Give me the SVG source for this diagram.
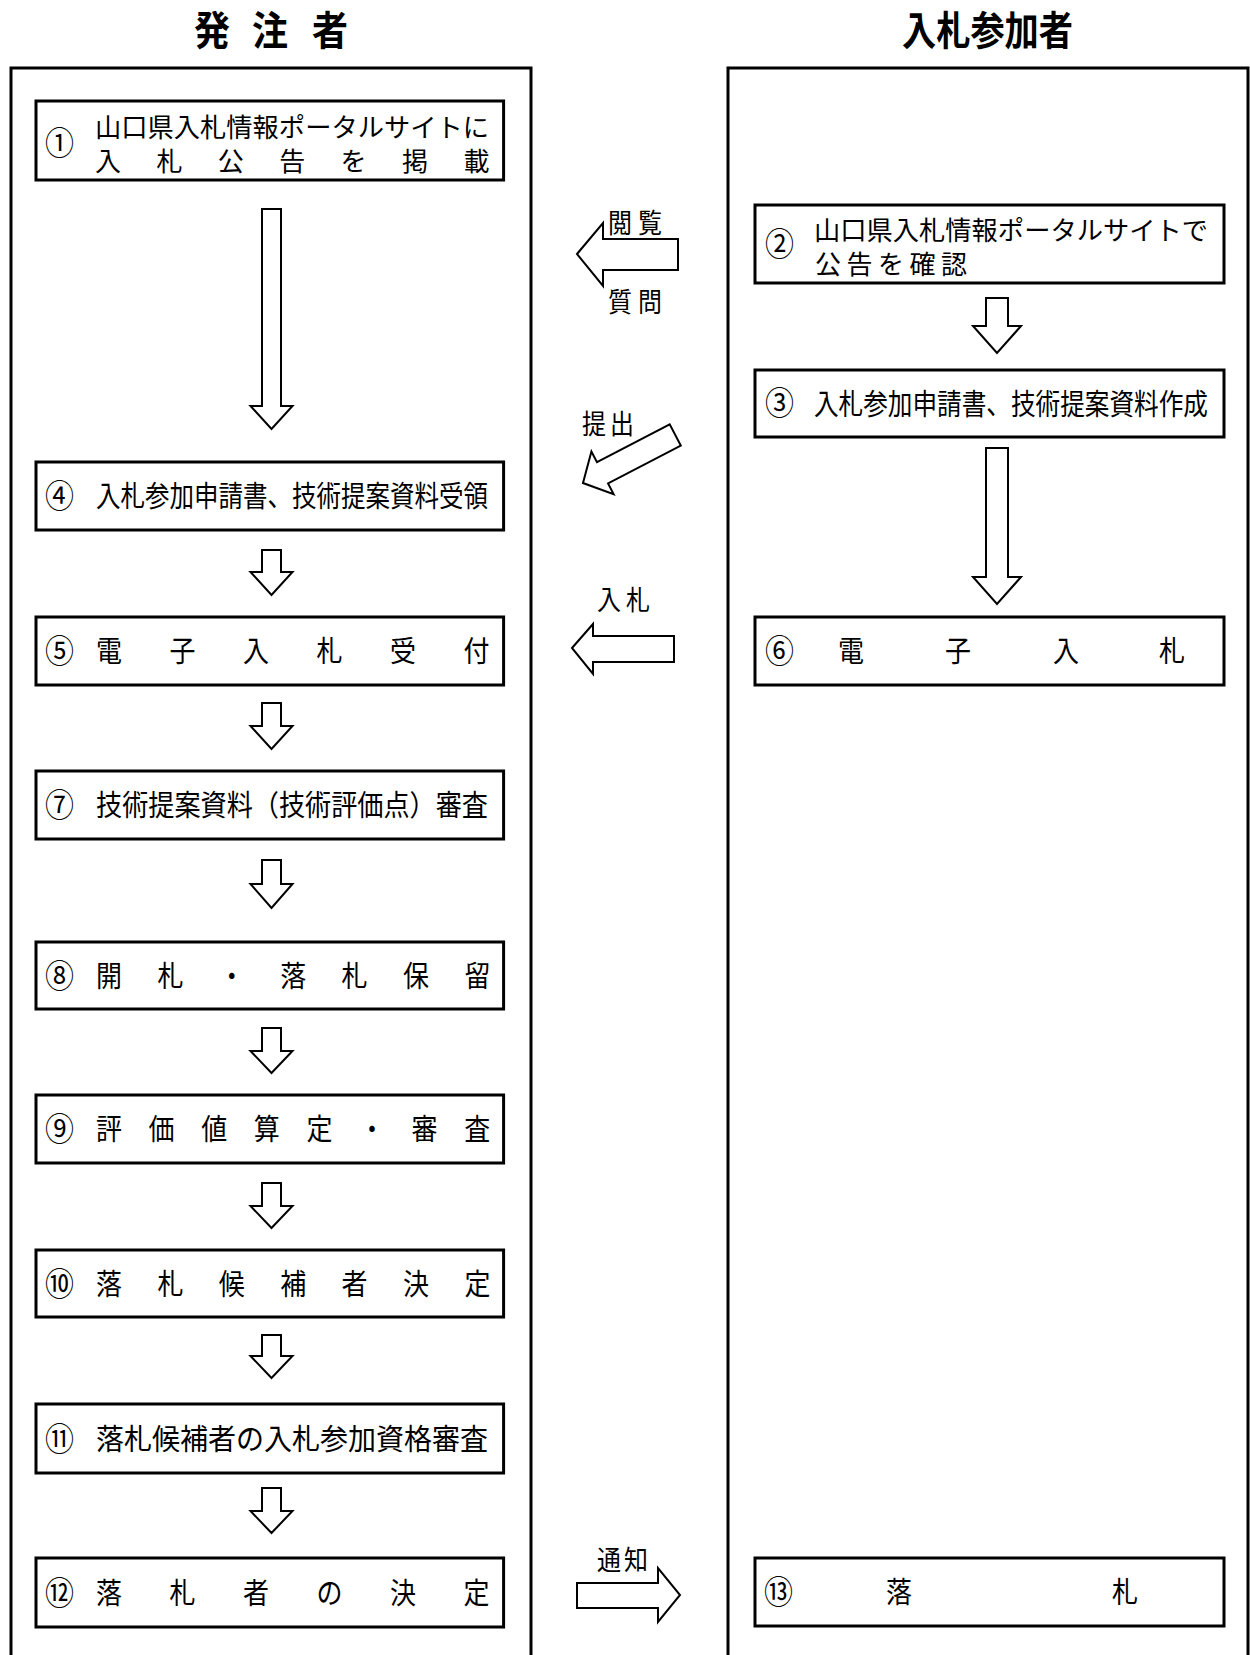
<svg xmlns="http://www.w3.org/2000/svg" width="1250" height="1655" viewBox="0 0 1250 1655">
<style>
.t{font-family:"Noto Sans CJK JP","Noto Sans CJK SC",sans-serif;fill:#000;}
.title{font-size:36px;font-weight:700;}
.bt{font-size:26px;}
.cn{font-size:29px;}
.lb{font-size:24px;}
.panel{fill:none;stroke:#000;stroke-width:3;}
.box{fill:#fff;stroke:#000;stroke-width:3;}
.arr{fill:#fff;stroke:#000;stroke-width:2;stroke-linejoin:miter;}
</style>
<rect width="1250" height="1655" fill="#fff"/>
<g id="titles">
<text class="t title" x="194 252 312" y="0" transform="translate(0,45) scale(1,1.1)">発注者</text>
<text class="t title" x="902" y="0" transform="translate(0,45) scale(1,1.1)" textLength="171" lengthAdjust="spacingAndGlyphs">入札参加者</text>
</g>
<g id="panels">
<path class="panel" d="M11,1700 V68 H531 V1700"/>
<path class="panel" d="M728,1700 V68 H1248 V1700"/>
</g>
<g id="connectors">
<path class="arr" d="M262,209 H281 V406 H292.5 L271.5,429 L250.5,406 H262 Z"/>
<path class="arr" d="M262,550 H281 V572 H292.5 L271.5,595 L250.5,572 H262 Z"/>
<path class="arr" d="M262,703 H281 V726 H292.5 L271.5,749 L250.5,726 H262 Z"/>
<path class="arr" d="M262,860 H281 V884 H292.5 L271.5,908 L250.5,884 H262 Z"/>
<path class="arr" d="M262,1028 H281 V1051 H292.5 L271.5,1073 L250.5,1051 H262 Z"/>
<path class="arr" d="M262,1183 H281 V1206 H292.5 L271.5,1228 L250.5,1206 H262 Z"/>
<path class="arr" d="M262,1335 H281 V1356 H292.5 L271.5,1378 L250.5,1356 H262 Z"/>
<path class="arr" d="M262,1488 H281 V1511 H292.5 L271.5,1533 L250.5,1511 H262 Z"/>
<path class="arr" d="M986,298 H1008 V326 H1021 L997,353 L973,326 H986 Z"/>
<path class="arr" d="M986,448 H1008 V577 H1021 L997,604 L973,577 H986 Z"/>
<path class="arr" d="M577,254 L603,223 L603,239 L678,239 L678,270 L603,270 L603,286 Z"/>
<path class="arr" d="M0,0 L22,-24 L22,-12 L104,-12 L104,12 L22,12 L22,24 Z" transform="translate(583,483) rotate(-27.5)"/>
<path class="arr" d="M572,648 L593,624 L593,636 L674,636 L674,662 L593,662 L593,674 Z"/>
<path class="arr" d="M577,1583 H658 V1568 L680,1595 L658,1622 V1608 H577 Z"/>
<text class="t lb" x="608" y="0" transform="translate(0,233) scale(1,1.12)" textLength="54" lengthAdjust="spacing">閲覧</text>
<text class="t lb" x="608" y="0" transform="translate(0,312) scale(1,1.12)" textLength="54" lengthAdjust="spacing">質問</text>
<text class="t lb" x="582" y="0" transform="translate(0,434) scale(1,1.12)" textLength="52" lengthAdjust="spacing">提出</text>
<text class="t lb" x="597" y="0" transform="translate(0,610) scale(1,1.12)" textLength="53" lengthAdjust="spacing">入札</text>
<text class="t lb" x="597" y="0" transform="translate(0,1570) scale(1,1.12)" textLength="51" lengthAdjust="spacing">通知</text>
</g>
<g id="n1">
<rect class="box" x="36" y="101" width="467.6" height="79"/>
<text class="t cn" x="45" y="0" transform="translate(0,155) scale(1,1.12)">①</text>
<text class="t bt" x="95" y="137" textLength="394" lengthAdjust="spacingAndGlyphs">山口県入札情報ポータルサイトに</text>
<text class="t bt" x="95 156.4 217.8 279.2 340.6 402 463.4" y="171">入札公告を掲載</text>
</g>
<g id="n2">
<rect class="box" x="755" y="205" width="469" height="78"/>
<text class="t cn" x="765" y="0" transform="translate(0,256) scale(1,1.12)">②</text>
<text class="t bt" x="814" y="240" textLength="394" lengthAdjust="spacingAndGlyphs">山口県入札情報ポータルサイトで</text>
<text class="t bt" x="815 846.5 878 909.5 941" y="274">公告を確認</text>
</g>
<g id="n3">
<rect class="box" x="755" y="370" width="469" height="67"/>
<text class="t cn" x="765" y="0" transform="translate(0,415) scale(1,1.12)">③</text>
<text class="t bt" x="814" y="0" transform="translate(0,414.5) scale(1,1.12)" textLength="394" lengthAdjust="spacingAndGlyphs">入札参加申請書、技術提案資料作成</text>
</g>
<g id="n4">
<rect class="box" x="36" y="462" width="467.6" height="68"/>
<text class="t cn" x="45" y="0" transform="translate(0,508) scale(1,1.12)">④</text>
<text class="t bt" x="96" y="0" transform="translate(0,507) scale(1,1.12)" textLength="392" lengthAdjust="spacingAndGlyphs">入札参加申請書、技術提案資料受領</text>
</g>
<g id="n5">
<rect class="box" x="36" y="617" width="467.6" height="68"/>
<text class="t cn" x="45" y="0" transform="translate(0,663) scale(1,1.12)">⑤</text>
<text class="t bt" x="96 169.5 243 316.5 390 463.5" y="0" transform="translate(0,662) scale(1,1.12)">電子入札受付</text>
</g>
<g id="n6">
<rect class="box" x="755" y="617" width="469" height="68"/>
<text class="t cn" x="765" y="0" transform="translate(0,663) scale(1,1.12)">⑥</text>
<text class="t bt" x="838 945 1053 1159" y="0" transform="translate(0,662) scale(1,1.12)">電子入札</text>
</g>
<g id="n7">
<rect class="box" x="36" y="771" width="467.6" height="68"/>
<text class="t cn" x="45" y="0" transform="translate(0,817) scale(1,1.12)">⑦</text>
<text class="t bt" x="96" y="0" transform="translate(0,816) scale(1,1.12)" textLength="392" lengthAdjust="spacingAndGlyphs">技術提案資料（技術評価点）審査</text>
</g>
<g id="n8">
<rect class="box" x="36" y="942" width="467.6" height="67"/>
<text class="t cn" x="45" y="0" transform="translate(0,987.5) scale(1,1.12)">⑧</text>
<text class="t bt" x="96 157.4 218.8 280.2 341.6 403 464.4" y="0" transform="translate(0,986.5) scale(1,1.12)">開札・落札保留</text>
</g>
<g id="n9">
<rect class="box" x="36" y="1095" width="467.6" height="68"/>
<text class="t cn" x="45" y="0" transform="translate(0,1141) scale(1,1.12)">⑨</text>
<text class="t bt" x="96 148.6 201.2 253.8 306.4 359 411.6 464.2" y="0" transform="translate(0,1140) scale(1,1.12)">評価値算定・審査</text>
</g>
<g id="n10">
<rect class="box" x="36" y="1250" width="467.6" height="67"/>
<text class="t cn" x="45" y="0" transform="translate(0,1295.5) scale(1,1.12)">⑩</text>
<text class="t bt" x="96 157.4 218.8 280.2 341.6 403 464.4" y="0" transform="translate(0,1294.5) scale(1,1.12)">落札候補者決定</text>
</g>
<g id="n11">
<rect class="box" x="36" y="1404" width="467.6" height="69"/>
<text class="t cn" x="45" y="0" transform="translate(0,1450.5) scale(1,1.12)">⑪</text>
<text class="t bt" x="96" y="0" transform="translate(0,1449.5) scale(1,1.12)" textLength="392" lengthAdjust="spacingAndGlyphs">落札候補者の入札参加資格審査</text>
</g>
<g id="n12">
<rect class="box" x="36" y="1558" width="467.6" height="69"/>
<text class="t cn" x="45" y="0" transform="translate(0,1604.5) scale(1,1.12)">⑫</text>
<text class="t bt" x="96 169.5 243 316.5 390 463.5" y="0" transform="translate(0,1603.5) scale(1,1.12)">落札者の決定</text>
</g>
<g id="n13">
<rect class="box" x="755" y="1558" width="469" height="68"/>
<text class="t cn" x="764" y="0" transform="translate(0,1604) scale(1,1.12)">⑬</text>
<text class="t bt" x="886 1112" y="0" transform="translate(0,1603) scale(1,1.12)">落札</text>
</g>
</svg>
